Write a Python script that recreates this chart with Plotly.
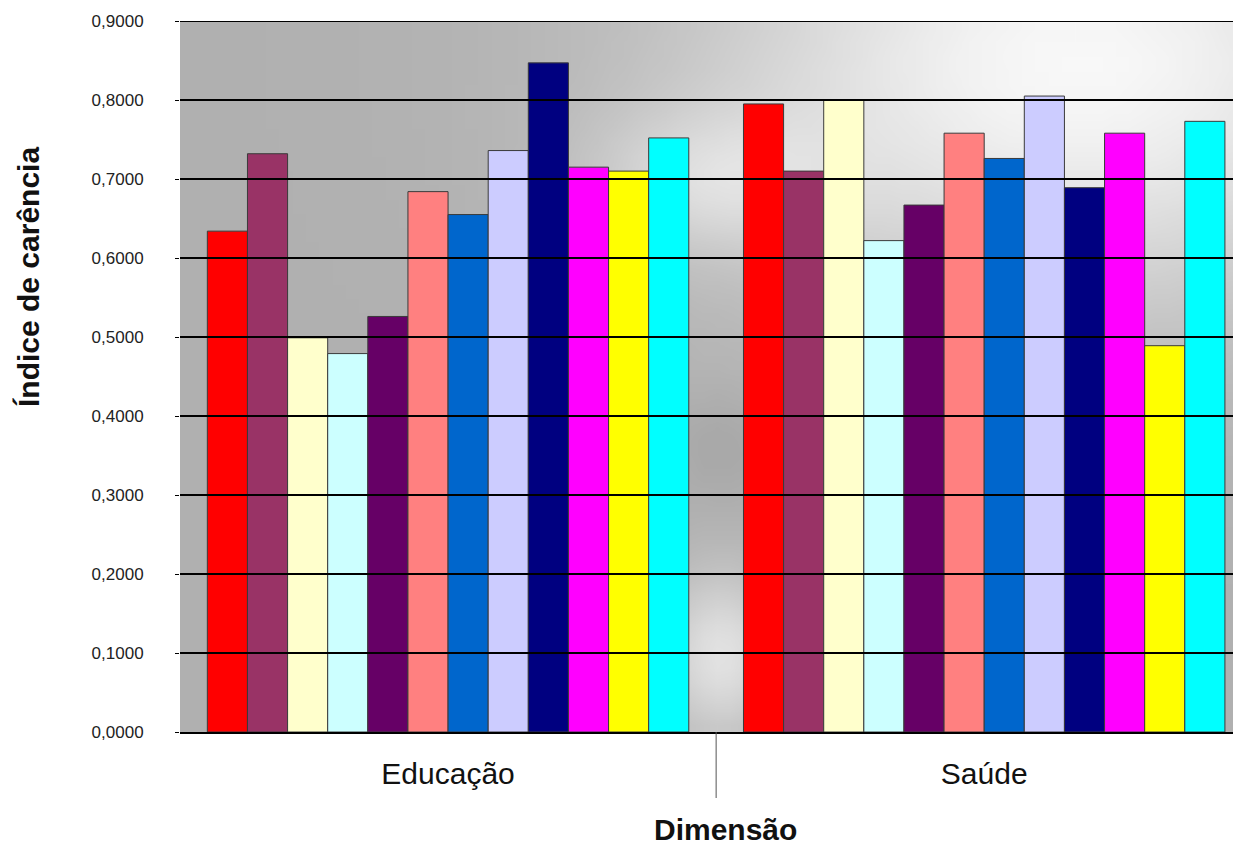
import base64
import math
import struct
import zlib

import plotly.graph_objects as go

# ---------------- data ----------------
categories = ["Educação", "Saúde"]
series_names = ["Série 1", "Série 2", "Série 3", "Série 4", "Série 5", "Série 6",
                "Série 7", "Série 8", "Série 9", "Série 10", "Série 11", "Série 12"]
educacao = [0.634, 0.732, 0.499, 0.479, 0.526, 0.684, 0.655, 0.736, 0.847, 0.715, 0.710, 0.752]
saude = [0.795, 0.710, 0.800, 0.622, 0.667, 0.758, 0.726, 0.805, 0.689, 0.758, 0.489, 0.773]
colors = ["#FF0000", "#993366", "#FFFFCC", "#CCFFFF", "#660066", "#FF8080",
          "#0066CC", "#CCCCFF", "#000080", "#FF00FF", "#FFFF00", "#00FFFF"]
y_ticks = [0.0, 0.1, 0.2, 0.3, 0.4, 0.5, 0.6, 0.7, 0.8, 0.9]

# page body has an 8px default margin: compensate so the figure fills the window
OFF = 8
W, H = 1241 - OFF, 845 - OFF
L, T, B = 180 - OFF, 21 - OFF, 845 - 732   # plot area: x 180..1241, y 21..732 on page
PW, PH = 1241 - 180, 732 - 21


# ---------------- background gradient (style only) ----------------
def gray_png_uri(w, h):
    blobs = [  # (cu, cv, su, sv, amp)
        (0.85, 0.05, 0.35, 0.35, 72),
        (0.51, 0.90, 0.06, 0.12, 50),
        (0.50, 0.22, 0.12, 0.10, 30),
        (0.51, 0.60, 0.05, 0.08, -10),
    ]
    rows = []
    for j in range(h):
        v = j / (h - 1)
        row = bytearray([0])
        for i in range(w):
            u = i / (w - 1)
            g = 176.0
            for cu, cv, su, sv, a in blobs:
                g += a * math.exp(-((u - cu) / su) ** 2 - ((v - cv) / sv) ** 2)
            row.append(max(0, min(255, int(round(g)))))
        rows.append(bytes(row))
    raw = b"".join(rows)

    def chunk(t, d):
        return struct.pack(">I", len(d)) + t + d + struct.pack(">I", zlib.crc32(t + d) & 0xFFFFFFFF)

    png = (b"\x89PNG\r\n\x1a\n"
           + chunk(b"IHDR", struct.pack(">IIBBBBB", w, h, 8, 0, 0, 0, 0))
           + chunk(b"IDAT", zlib.compress(raw))
           + chunk(b"IEND", b""))
    return "data:image/png;base64," + base64.b64encode(png).decode()


fig = go.Figure()
for k, name in enumerate(series_names):
    fig.add_trace(go.Bar(
        x=categories,
        y=[educacao[k], saude[k]],
        name=name,
        marker=dict(color=colors[k], line=dict(color="#3a3a3a", width=1)),
        showlegend=False,
    ))

fig.update_layout(
    width=W,
    height=H,
    margin=dict(l=L, r=0, t=T, b=B),
    paper_bgcolor="white",
    plot_bgcolor="#b8b8b8",
    barmode="group",
    bargap=0.102,
    bargroupgap=0,
    separators=",.",
    font=dict(family="Liberation Sans, Arial, sans-serif", color="#111111"),
    images=[dict(
        source=gray_png_uri(80, 50),
        xref="paper", yref="paper", x=0, y=1, sizex=1, sizey=1,
        xanchor="left", yanchor="top", sizing="stretch", layer="below",
    )],
)

fig.update_xaxes(
    range=[-0.5, 1.479],
    showline=True, linecolor="black", linewidth=2,
    showgrid=False,
    ticks="outside", ticklen=14, tickcolor="rgba(0,0,0,0)",
    tickfont=dict(size=30, family="Liberation Sans, Arial, sans-serif", color="#111111"),
)
fig.update_yaxes(
    range=[0, 0.9],
    tickvals=y_ticks,
    tickformat=".4f",
    showgrid=False,
    zeroline=False,
    showline=False,
    ticks="outside", ticklen=4, tickcolor="black",
    ticklabelstandoff=28,
    tickfont=dict(size=17, family="Liberation Sans, Arial, sans-serif", color="#222222"),
)

# gridlines drawn on top of the bars, as in the reference
for tv in y_ticks[1:]:
    fig.add_shape(type="line", xref="paper", yref="y", x0=0, x1=1, y0=tv, y1=tv,
                  line=dict(color="black", width=2), layer="above")

# category divider tick below the axis
fig.add_shape(type="line", xref="x", yref="paper", x0=0.5, x1=0.5, y0=0, y1=-66 / PH,
              line=dict(color="#555555", width=1))

title_font = dict(family="Liberation Sans, Arial, sans-serif", size=30, color="#111111")
fig.add_annotation(text="<b>Índice de carência</b>", xref="paper", yref="paper",
                   x=(28 - 180) / PW, y=(732 - 277) / PH, textangle=-90,
                   xanchor="center", yanchor="middle", showarrow=False, font=title_font)
fig.add_annotation(text="<b>Dimensão</b>", xref="paper", yref="paper",
                   x=(725 - 180) / PW, y=(732 - 829) / PH,
                   xanchor="center", yanchor="middle", showarrow=False, font=title_font)

fig.write_html("out.html")
